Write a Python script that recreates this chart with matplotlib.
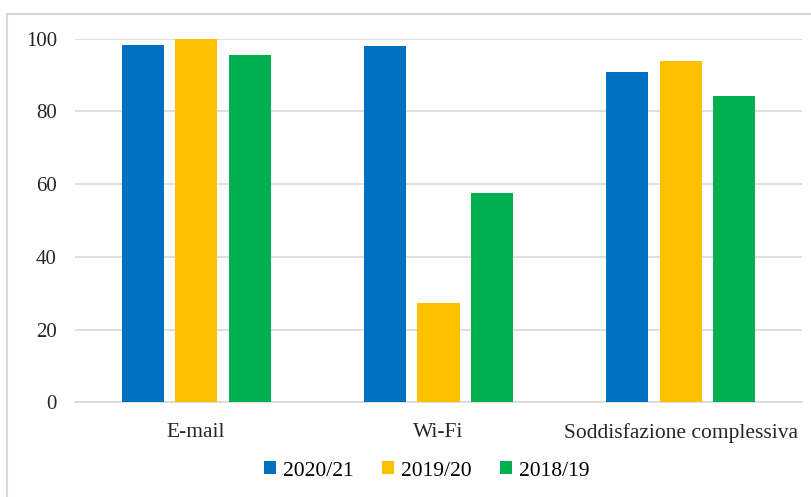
import matplotlib
matplotlib.use("Agg")
import matplotlib.pyplot as plt
import numpy as np
from matplotlib.patches import Rectangle

categories = ["E-mail", "Wi-Fi", "Soddisfazione complessiva"]
series_names = ["2020/21", "2019/20", "2018/19"]
v_2020_21 = [98.2, 98.1, 90.9]
v_2019_20 = [99.9, 27.2, 93.9]
v_2018_19 = [95.4, 57.5, 84.2]
yticks = [0, 20, 40, 60, 80, 100]
colors = ["#0070C0", "#FFC000", "#00B050"]

plt.rcParams['font.family'] = ['Liberation Serif', 'DejaVu Serif']

W, H = 812, 497
fig = plt.figure(figsize=(W / 100, H / 100), dpi=100)
ax = fig.add_axes([75 / W, 1 - 402.3 / H, (802 - 75) / W, (402.3 - 38.7) / H])

x = np.arange(len(categories))
bw = 42 / 242
step = 53.5 / 242
for i, (vals, c, name) in enumerate(zip([v_2020_21, v_2019_20, v_2018_19], colors, series_names)):
    ax.bar(x + (i - 1) * step, vals, width=bw, color=c, label=name, zorder=3)

ax.set_xlim(-0.5, len(categories) - 0.5)
ax.set_ylim(0, 100)
ax.set_yticks(yticks)
ax.set_yticklabels([str(t) for t in yticks], fontsize=15, color="#262626")
ax.set_xticks(x)
ax.set_xticklabels(categories, fontsize=15.5, color="#262626")
ax.tick_params(axis='both', length=0)
ax.tick_params(axis='y', pad=13)
ax.tick_params(axis='x', pad=15)
ax.grid(axis='y', color="#D9D9D9", linewidth=1.2, zorder=0)
for s in ["top", "right", "left"]:
    ax.spines[s].set_visible(False)
ax.spines["bottom"].set_color("#D9D9D9")
ax.spines["bottom"].set_linewidth(1.2)

leg = fig.legend(loc='center', bbox_to_anchor=(427 / W, 1 - 471 / H), ncol=3,
                 frameon=False, fontsize=15.5, handlelength=0.55, handleheight=0.55,
                 handletextpad=0.35, columnspacing=1.3)

# outer chart frame
fig.add_artist(Rectangle((7 / W, -0.05), 1.1, 1 - 13.5 / H + 0.05,
                         transform=fig.transFigure, fill=False,
                         edgecolor="#D9D9D9", linewidth=1.5))

fig.savefig("out.png", dpi=100)
